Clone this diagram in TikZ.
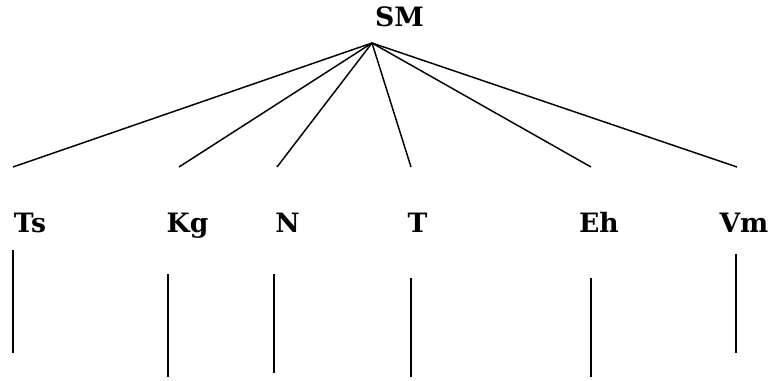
\documentclass[tikz,border=0pt]{standalone}
\usepackage{fontspec}
\setmainfont{DejaVu Serif}
\usepackage{tikz}
\tikzset{lbl/.style={font=\fontsize{20}{24}\selectfont\bfseries, inner sep=0pt, anchor=base}}

\begin{document}
\begin{tikzpicture}[x=0.75pt,y=-0.75pt,line width=1.1pt]
			\useasboundingbox (0,0) rectangle (769,381);
			\node[lbl] (SM) at (399.5,27) {SM};
			\coordinate (top) at (372,43);
			
			\node[lbl] (Ts) at (30,233) {Ts};
			\node[lbl] (Kg) at (187.5,233) {Kg};
			\node[lbl] (N) at (287.5,233) {N};
			\node[lbl] (T) at (417.5,233) {T};
			\node[lbl] (Eh) at (599,233) {Eh};
			\node[lbl] (Vm) at (744,233) {Vm};
			
			% ends of the fan
			\coordinate (Ts1) at (13,167);
			\coordinate (Kg1) at (179,167);
			\coordinate (N1) at (277,167);
			\coordinate (T1) at (411,167);
			\coordinate (Eh1) at (591,167);
			\coordinate (Vm1) at (737,167);
			
			% stems below the labels
			\coordinate (Ts2) at (13,250);
			\coordinate (Ts3) at (13,353);
			\coordinate (Kg2) at (168,274);
			\coordinate (Kg3) at (168,377);
			\coordinate (N2) at (274,274);
			\coordinate (N3) at (274,373);
			\coordinate (T2) at (411,278);
			\coordinate (T3) at (411,377);
			\coordinate (Eh2) at (591,278);
			\coordinate (Eh3) at (591,377);
			\coordinate (Vm2) at (736,254);
			\coordinate (Vm3) at (736,353);
			
			\path (top) edge (Ts1);
			\path (top) edge (Kg1);
			\path (top) edge (N1);
			\path (top) edge (T1);
			\path (top) edge (Eh1);
			\path (top) edge (Vm1);
			
			\path (Ts2) edge (Ts3);
			\path (Kg2) edge (Kg3);
			\path (N2) edge (N3);
			\path (T2) edge (T3);
			\path (Eh2) edge (Eh3);
			\path (Vm2) edge (Vm3);
		\end{tikzpicture}
\end{document}
